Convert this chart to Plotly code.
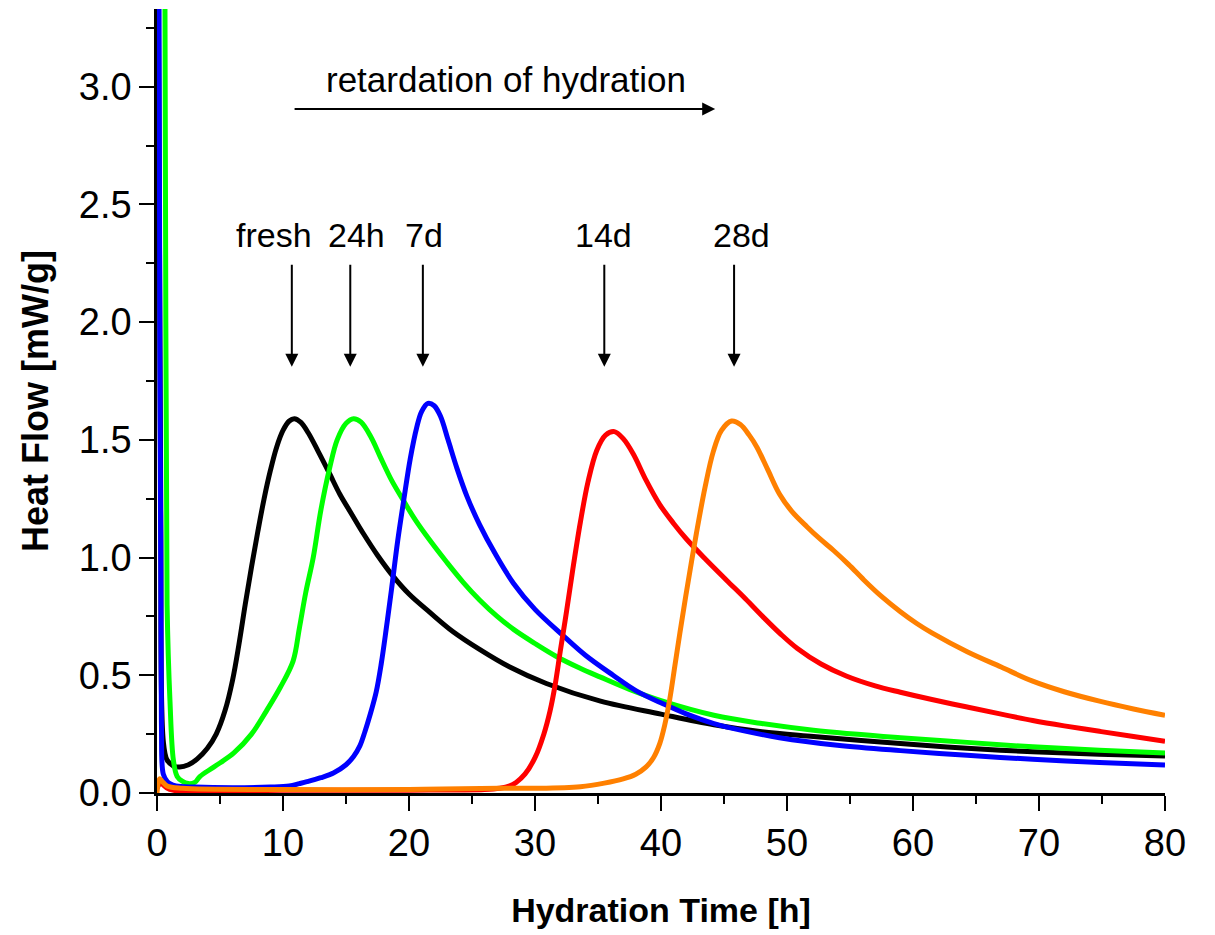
import plotly.graph_objects as go

# ---- data ----
fresh_x = [0.05, 0.3, 0.5, 0.8, 1.3, 1.8, 2.5, 3.2, 4.0, 4.7, 5.4, 6.0, 6.5, 7.0, 7.5, 8.0, 8.5,
           9.0, 9.5, 10.0, 10.5, 10.9, 11.4, 12.0, 12.8, 13.7, 14.5, 15.5, 16.4, 17.5, 18.75, 20.0,
           21.7, 23.5, 25.6, 28.0, 30.9, 35.2, 40.0, 44.2, 48.0, 52.1, 59.0, 64.3, 69.5, 74.8, 80.0]
fresh_y = [4.0, 1.2, 0.22, 0.14, 0.115, 0.11, 0.12, 0.145, 0.19, 0.25, 0.35, 0.48, 0.63, 0.80, 0.96,
           1.11, 1.25, 1.37, 1.47, 1.54, 1.58, 1.59, 1.575, 1.53, 1.45, 1.356, 1.27, 1.18, 1.10, 1.01,
           0.92, 0.845, 0.765, 0.685, 0.61, 0.535, 0.465, 0.39, 0.335, 0.29, 0.26, 0.24, 0.21, 0.19,
           0.175, 0.165, 0.157]

h24_x = [0.5, 0.7, 0.8, 1.03, 1.3, 1.6, 2.0, 2.5, 3.0, 3.4, 4.5, 6.1, 7.5, 8.7, 9.8, 10.8, 11.3,
         11.8, 12.4, 13.0, 13.7, 14.3, 15.0, 15.6, 16.2, 17.0, 17.7, 18.6, 19.55, 20.5, 21.7, 23.0,
         24.3, 25.6, 27.0, 28.3, 30.0, 31.7, 33.5, 35.2, 37.5, 40.0, 44.2, 48.0, 52.1, 59.0, 64.3,
         69.5, 74.8, 80.0]
h24_y = [6.0, 2.0, 0.8, 0.39, 0.14, 0.07, 0.05, 0.04, 0.045, 0.07, 0.11, 0.17, 0.25, 0.35, 0.45,
         0.56, 0.70, 0.85, 1.0, 1.2, 1.38, 1.50, 1.57, 1.59, 1.575, 1.51, 1.43, 1.33, 1.243, 1.16,
         1.07, 0.98, 0.895, 0.82, 0.75, 0.695, 0.635, 0.58, 0.532, 0.492, 0.44, 0.392, 0.33, 0.295,
         0.267, 0.235, 0.215, 0.196, 0.182, 0.17]

d7_x = [0.05, 0.2, 0.35, 0.5, 0.8, 1.03, 1.5, 3.0, 6.0, 9.0, 10.5, 11.3, 11.9, 13.0, 14.0, 15.0,
        15.6, 16.1, 16.5, 16.9, 17.4, 17.8, 18.2, 18.6, 19.1, 19.6, 20.1, 20.6, 21.0, 21.5, 22.0,
        22.5, 23.1, 23.8, 24.6, 25.6, 26.8, 28.3, 30.0, 32.2, 34.0, 36.2, 38.0, 40.2, 42.0, 44.2,
        46.5, 49.4, 54.0, 59.0, 64.3, 69.5, 74.8, 80.0]
d7_y = [6.0, 2.5, 0.3, 0.08, 0.05, 0.04, 0.03, 0.025, 0.022, 0.025, 0.03, 0.04, 0.048, 0.065, 0.085,
        0.12, 0.155, 0.2, 0.26, 0.33, 0.43, 0.55, 0.70, 0.86, 1.07, 1.25, 1.42, 1.55, 1.62, 1.655,
        1.645, 1.60, 1.50, 1.38, 1.26, 1.14, 1.02, 0.89, 0.78, 0.67, 0.585, 0.5, 0.435, 0.378, 0.336,
        0.295, 0.265, 0.235, 0.203, 0.18, 0.16, 0.143, 0.13, 0.119]

d14_x = [0.0, 0.3, 1.0, 10.0, 20.0, 26.0, 27.2, 28.0, 28.5, 29.2, 30.0, 30.7, 31.2, 31.6, 32.0,
         32.5, 33.0, 33.6, 34.2, 34.9, 35.6, 36.3, 37.0, 37.8, 38.8, 39.9, 41.0, 42.0, 43.5, 45.2,
         46.7, 48.1, 49.5, 50.8, 52.7, 54.7, 57.0, 59.0, 61.5, 64.3, 67.0, 69.5, 72.0, 74.8, 77.5,
         80.0]
d14_y = [0.02, 0.04, 0.015, 0.012, 0.012, 0.015, 0.02, 0.03, 0.045, 0.08, 0.15, 0.25, 0.35, 0.46,
         0.6, 0.77, 0.95, 1.15, 1.32, 1.455, 1.52, 1.535, 1.505, 1.44, 1.33, 1.225, 1.145, 1.08,
         0.995, 0.904, 0.825, 0.748, 0.675, 0.615, 0.548, 0.497, 0.455, 0.428, 0.397, 0.365, 0.335,
         0.308, 0.285, 0.262, 0.24, 0.22]

d28_x = [0.0, 0.2, 0.4, 0.8, 2.0, 10.0, 20.0, 27.2, 30.0, 33.6, 35.5, 37.0, 38.0, 38.8, 39.4, 39.9,
         40.3, 40.7, 41.1, 41.5, 42.1, 42.8, 43.5, 44.15, 44.8, 45.6, 46.3, 47.0, 47.6, 48.5, 49.4,
         50.4, 51.6, 52.6, 53.7, 54.9, 56.1, 57.5, 59.0, 60.3, 61.5, 64.3, 67.0, 69.5, 72.0, 74.8,
         77.5, 80.0]
d28_y = [0.0, 0.06, 0.05, 0.03, 0.02, 0.015, 0.015, 0.02, 0.02, 0.027, 0.042, 0.06, 0.08, 0.11, 0.15,
         0.21, 0.29, 0.40, 0.54, 0.68, 0.88, 1.10, 1.3, 1.45, 1.54, 1.58, 1.565, 1.52, 1.47, 1.37,
         1.27, 1.195, 1.13, 1.08, 1.03, 0.97, 0.905, 0.835, 0.77, 0.72, 0.68, 0.60, 0.535, 0.475,
         0.43, 0.39, 0.357, 0.33]

series_names = ["fresh", "24h", "7d", "14d", "28d"]
series_colors = ["#000000", "#00ff00", "#0000ff", "#ff0000", "#ff8000"]
series_x = [fresh_x, h24_x, d7_x, d14_x, d28_x]
series_y = [fresh_y, h24_y, d7_y, d14_y, d28_y]

# label positions (x of arrow, x of label text)
label_texts = ["fresh", "24h", "7d", "14d", "28d"]
label_text_x = [9.3, 15.87, 21.2, 35.4, 46.4]
label_arrow_x = [10.7, 15.34, 21.1, 35.5, 45.8]
label_text_y = 2.37
arrow_top_y = 2.25
arrow_tip_y = 1.81

x_ticks = [0, 10, 20, 30, 40, 50, 60, 70, 80]
y_ticks = [0.0, 0.5, 1.0, 1.5, 2.0, 2.5, 3.0]
y_tick_text = ["0.0", "0.5", "1.0", "1.5", "2.0", "2.5", "3.0"]

FONT = "Liberation Sans, Arial, Helvetica, sans-serif"

fig = go.Figure()
for name, col, xs, ys in zip(series_names, series_colors, series_x, series_y):
    fig.add_trace(go.Scatter(x=xs, y=ys, mode="lines", name=name,
                             line=dict(color=col, width=5, shape="spline", smoothing=1.0)))

annotations = []
for t, tx, axx in zip(label_texts, label_text_x, label_arrow_x):
    annotations.append(dict(x=tx, y=label_text_y, xref="x", yref="y", text=t, showarrow=False,
                            font=dict(family=FONT, size=34, color="black"),
                            xanchor="center", yanchor="middle"))
    annotations.append(dict(x=axx, y=arrow_tip_y, ax=axx, ay=arrow_top_y, xref="x", yref="y",
                            axref="x", ayref="y", text="", showarrow=True, arrowhead=2,
                            arrowsize=1.3, arrowwidth=2, arrowcolor="black"))

annotations.append(dict(x=27.7, y=3.03, xref="x", yref="y", text="retardation of hydration",
                        showarrow=False, font=dict(family=FONT, size=35, color="black"),
                        xanchor="center", yanchor="middle"))
annotations.append(dict(x=44.3, y=2.905, ax=10.8, ay=2.905, xref="x", yref="y", axref="x",
                        ayref="y", text="", showarrow=True, arrowhead=2, arrowsize=1.3,
                        arrowwidth=2, arrowcolor="black"))

# the page body adds an 8px offset, so the figure is sized to fit the window
fig.update_layout(
    width=1207, height=927,
    margin=dict(l=149, r=50, t=1, b=142),
    paper_bgcolor="white", plot_bgcolor="white",
    showlegend=False,
    font=dict(family=FONT, color="black"),
    annotations=annotations,
)
fig.update_xaxes(
    range=[0, 80], tickvals=x_ticks, ticktext=[str(v) for v in x_ticks],
    showline=True, linecolor="black", linewidth=2.5, mirror=False,
    ticks="outside", ticklen=15, tickwidth=2, tickcolor="black",
    minor=dict(ticks="outside", ticklen=8, tickwidth=2, tickcolor="black", dtick=5, tick0=0),
    showgrid=False, zeroline=False,
    tickfont=dict(family=FONT, size=38, color="black"),
    title=dict(text="<b>Hydration Time [h]</b>", font=dict(family=FONT, size=34, color="black"),
               standoff=35),
)
fig.update_yaxes(
    range=[0, 3.33], tickvals=y_ticks, ticktext=y_tick_text,
    showline=True, linecolor="black", linewidth=2.5, mirror=False,
    ticks="outside", ticklen=15, tickwidth=2, tickcolor="black",
    minor=dict(ticks="outside", ticklen=8, tickwidth=2, tickcolor="black", dtick=0.25, tick0=0),
    showgrid=False, zeroline=False,
    tickfont=dict(family=FONT, size=38, color="black"),
    title=dict(text="<b>Heat Flow [mW/g]</b>", font=dict(family=FONT, size=36, color="black"),
               standoff=20),
)

fig.write_html("out.html")
